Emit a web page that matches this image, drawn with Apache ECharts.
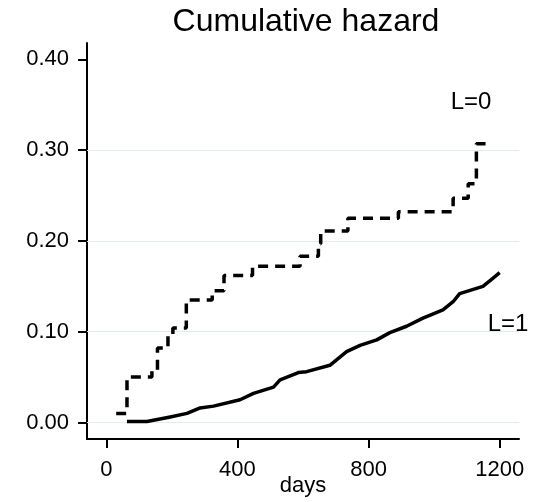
<!DOCTYPE html>
<html>
<head>
<meta charset="utf-8">
<script src="https://cdn.jsdelivr.net/npm/echarts@6/dist/echarts.min.js"></script>
<style>html,body{margin:0;padding:0;background:#fff}#c{width:541px;height:502px}</style>
</head>
<body>
<div id="c"></div>
<script>
// L=0 cumulative hazard (step function): [days, value]
var hazardL0 = [
  [30, 0.010], [63, 0.050], [139, 0.057], [156, 0.082], [188, 0.096], [203, 0.104],
  [244, 0.135], [323, 0.145], [359, 0.162], [446, 0.172], [591, 0.183], [647, 0.197],
  [654, 0.211], [737, 0.225], [891, 0.232], [1058, 0.247], [1104, 0.263], [1129, 0.307],
  [1157, 0.307]
];
// L=1 cumulative hazard: [days, value]
var hazardL1 = [
  [63, 0.001], [124, 0.001], [195, 0.006], [246, 0.010], [286, 0.016], [327, 0.018],
  [408, 0.025], [449, 0.032], [510, 0.039], [530, 0.047], [586, 0.055], [611, 0.056],
  [682, 0.063], [733, 0.078], [774, 0.085], [825, 0.091], [865, 0.099], [916, 0.106],
  [966, 0.115], [1027, 0.124], [1058, 0.133], [1078, 0.142], [1149, 0.150], [1180, 0.159],
  [1200, 0.165]
];
var xTicks = [0, 400, 800, 1200];
var yTicks = [0, 0.1, 0.2, 0.3, 0.4];
var gridValues = [0, 0.1, 0.2, 0.3];
var titleText = 'Cumulative hazard';
var xName = 'days';
var seriesLabels = ['L=0', 'L=1'];

var FONT = '"Liberation Sans", Arial, Helvetica, sans-serif';
var chart = echarts.init(document.getElementById('c'), null, {renderer: 'canvas'});
chart.setOption({
  animation: false,
  backgroundColor: '#ffffff',
  grid: {left: 87, right: 22, top: 43, bottom: 63, containLabel: false, outerBoundsMode: 'none'},
  xAxis: {
    type: 'value', min: -59, max: 1259,
    name: xName, nameLocation: 'middle', nameGap: 36, nameMoveOverlap: false,
    nameTextStyle: {fontFamily: FONT, fontSize: 22, color: '#000'},
    axisLine: {show: true, onZero: false, lineStyle: {color: '#000', width: 2}},
    axisTick: {show: true, length: 9, customValues: xTicks, lineStyle: {color: '#000', width: 2}},
    axisLabel: {customValues: xTicks, margin: 20, fontFamily: FONT, fontSize: 22, color: '#000',
      formatter: function (v) { return String(v); }},
    splitLine: {show: false}
  },
  yAxis: {
    type: 'value', min: -0.0182, max: 0.418,
    axisLine: {show: true, onZero: false, lineStyle: {color: '#000', width: 2}},
    axisTick: {show: true, length: 9, customValues: yTicks, lineStyle: {color: '#000', width: 2}},
    axisLabel: {customValues: yTicks, margin: 18, fontFamily: FONT, fontSize: 22, color: '#000',
      formatter: function (v) { return v.toFixed(2); }},
    splitLine: {show: false}
  },
  series: [
    {
      type: 'line', data: hazardL0, step: 'end', showSymbol: false, z: 3,
      lineStyle: {color: '#000', width: 3.5, type: [10, 7], cap: 'butt'},
      markLine: {
        silent: true, symbol: 'none', label: {show: false}, z: 1,
        lineStyle: {color: '#e3ebee', width: 1.2, type: 'solid'},
        data: gridValues.map(function (v) { return {yAxis: v}; })
      }
    },
    {
      type: 'line', data: hazardL1, showSymbol: false, z: 3,
      lineStyle: {color: '#000', width: 3.5, type: 'solid', join: 'round'}
    }
  ],
  graphic: [
    {type: 'text', x: 306, y: 22, style: {text: titleText, font: '32px ' + FONT, fill: '#000', textAlign: 'center', textVerticalAlign: 'middle'}},
    {type: 'text', x: 471, y: 102, style: {text: seriesLabels[0], font: '24px ' + FONT, fill: '#000', textAlign: 'center', textVerticalAlign: 'middle'}},
    {type: 'text', x: 508, y: 324, style: {text: seriesLabels[1], font: '24px ' + FONT, fill: '#000', textAlign: 'center', textVerticalAlign: 'middle'}}
  ]
});
</script>
</body>
</html>
